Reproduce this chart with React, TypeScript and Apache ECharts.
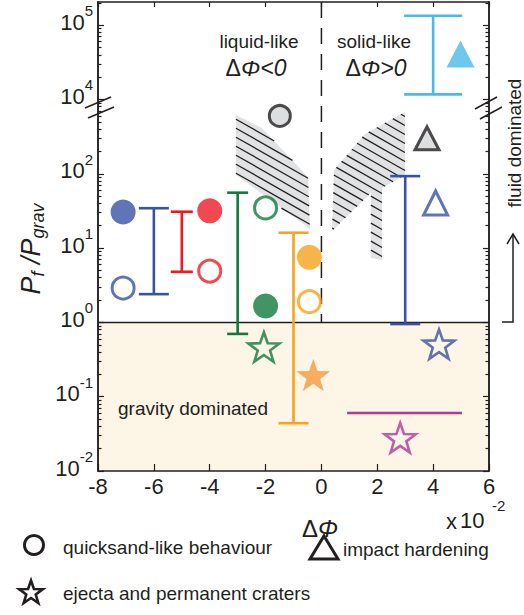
import React, { useEffect, useRef } from 'react';
import * as echarts from 'echarts';

// ---------------- data ----------------
const xTickValues = [-8, -6, -4, -2, 0, 2, 4, 6];
const yLabelExponents = [-2, -1, 0, 1, 2, 4, 5];
const breakBelowExp = 3; // axis break: 10^3 ... 10^4 removed
const breakAboveExp = 4;
const yMinExp = -2;
const yMaxExp = 5.312;

const regimeBoundaryY = 1; // P_f / P_grav = 1
const regimeBoundaryX = 0; // ΔΦ = 0

// error bars (ranges)
const errGroup = ['blue', 'red', 'green', 'orange', 'blue', 'lightBlue'];
const errX = [-6, -5, -3, -1, 3, 4];
const errLow = [2.4, 4.8, 0.7, 0.044, 0.95, 1.17e4];
const errHigh = [34.4, 30.9, 55.7, 16.1, 93, 1.34e5];

// quicksand-like (circles)
const filledCircleGroup = ['blue', 'red', 'green', 'orange'];
const filledCircleX = [-7.1, -4.0, -2.0, -0.43];
const filledCircleY = [30.6, 31.7, 1.66, 7.5];

const openCircleGroup = ['blue', 'red', 'green', 'orange'];
const openCircleX = [-7.1, -4.0, -2.0, -0.43];
const openCircleY = [2.9, 4.9, 34.7, 1.9];

const grayCircleX = [-1.49];
const grayCircleY = [600];

// impact hardening (triangles)
const openTriangleX = [4.09];
const openTriangleY = [40.5];
const grayTriangleX = [3.78];
const grayTriangleY = [300];
const filledTriangleX = [4.98];
const filledTriangleY = [4.1e4];

// ejecta and permanent craters (stars)
const openStarGroup = ['green', 'blue', 'magenta'];
const openStarX = [-2.06, 4.21, 2.82];
const openStarY = [0.467, 0.51, 0.028];
const filledStarX = [-0.29];
const filledStarY = [0.196];

// magenta range
const rangeX = [0.92, 5.03];
const rangeY = [0.0604, 0.0604];

// hatched regions
const leftHatch = [[-3.06, 616], [-2.13, 414], [-0.48, 90.6], [-0.41, 18.1], [-3.06, 96.4]];
const rightHatch = [[2.99, 679], [2.99, 96.4], [2.17, 64.4], [2.17, 6.92], [1.77, 7.36], [1.77, 55.2], [0.38, 17.0], [0.45, 112], [1.56, 344]];
const hatchPolygons = [leftHatch, rightHatch];

// ---------------- styles ----------------
const FONT = '"Liberation Sans", Arial, Helvetica, sans-serif';
const INK = '#231f20';
const COLORS: Record<string, string> = {
  blue: '#3953a4',
  red: '#ed1c24',
  green: '#0f7a3c',
  orange: '#f7a31d',
  orangeStar: '#f59b3c',
  lightBlue: '#4cb9e8',
  magenta: '#b03a96',
  gray: '#d5d6d8',
  hatch: '#e1e2e4',
  cream: '#fdf5e6',
};
const errCapPx = [30, 22, 21, 30, 30, 58];

// ---------------- helpers ----------------
const toU = (v: number) => {
  const l = Math.log10(v);
  return l >= breakAboveExp ? l - (breakAboveExp - breakBelowExp) : l;
};
const uToExp = (u: number) => (u > breakBelowExp + 1e-9 || Math.abs(u - breakBelowExp) < 1e-9 ? u + (breakAboveExp - breakBelowExp) : u);
const yMinU = toU(Math.pow(10, yMinExp));
const yMaxU = toU(Math.pow(10, yMaxExp));
const majorU = yLabelExponents.map((e) => toU(Math.pow(10, e)));
const minorU: number[] = [];
for (let n = -2; n <= 5; n++) {
  if (n === breakBelowExp) continue;
  for (let k = 2; k <= 9; k++) {
    const u = toU(k * Math.pow(10, n));
    if (u < yMaxU) minorU.push(u);
  }
}

function starPath(): string {
  const pts: string[] = [];
  for (let k = 0; k < 10; k++) {
    const a = (-90 + 36 * k) * Math.PI / 180;
    const r = k % 2 ? 40 : 100;
    pts.push(`${(r * Math.cos(a)).toFixed(2)} ${(r * Math.sin(a)).toFixed(2)}`);
  }
  return 'path://M' + pts.join(' L ') + ' Z';
}
const STAR = starPath();

function starPoints(cx: number, cy: number, R: number): number[][] {
  const pts: number[][] = [];
  for (let k = 0; k < 10; k++) {
    const a = (-90 + 36 * k) * Math.PI / 180;
    const r = k % 2 ? R * 0.4 : R;
    pts.push([cx + r * Math.cos(a), cy + r * Math.sin(a)]);
  }
  return pts;
}

function hatchLines(poly: number[][], slope: number, step: number): number[][] {
  const g = (p: number[]) => p[1] - slope * p[0];
  let cmin = Infinity, cmax = -Infinity;
  poly.forEach((p) => { cmin = Math.min(cmin, g(p)); cmax = Math.max(cmax, g(p)); });
  const segs: number[][] = [];
  const start = Math.ceil(cmin / step) * step + step * 0.3;
  for (let c = start; c < cmax; c += step) {
    const xs: number[] = [];
    for (let i = 0; i < poly.length; i++) {
      const P = poly[i], Q = poly[(i + 1) % poly.length];
      const a = g(P) - c, b = g(Q) - c;
      if ((a < 0) !== (b < 0)) {
        const t = a / (a - b);
        xs.push(P[0] + t * (Q[0] - P[0]));
      }
    }
    xs.sort((m, n) => m - n);
    for (let j = 0; j + 1 < xs.length; j += 2) {
      segs.push([xs[j], slope * xs[j] + c, xs[j + 1], slope * xs[j + 1] + c]);
    }
  }
  return segs;
}

function buildOption(): any {
  const axisLineStyle = { color: INK, width: 1.5 };
  const yAxisBase = (position: string, major: boolean) => ({
    type: 'value',
    min: yMinU,
    max: yMaxU,
    position,
    splitLine: { show: false },
    axisLine: { show: true, onZero: false, lineStyle: axisLineStyle },
    axisTick: {
      show: true,
      inside: true,
      length: major ? 6 : 3.5,
      customValues: major ? majorU : minorU,
      lineStyle: { color: INK, width: 1.2 },
    },
    axisLabel: major && position === 'left'
      ? {
          show: true,
          customValues: majorU,
          margin: 5,
          formatter: (v: number) => `{b|10}{s|${Math.round(uToExp(v))}}`,
          padding: [0, 0, 14, 0],
          rich: {
            b: { fontSize: 22, fontFamily: FONT, color: INK, lineHeight: 30, verticalAlign: 'bottom' },
            s: { fontSize: 15, fontFamily: FONT, color: INK, lineHeight: 15, verticalAlign: 'top' },
          },
        }
      : { show: false },
  });

  const capStyle = (i: number) => ({ stroke: COLORS[errGroup[i]], lineWidth: 2.6 });

  return {
    animation: false,
    textStyle: { fontFamily: FONT },
    grid: { left: 98, right: 35, top: 2, bottom: 144, containLabel: false },
    xAxis: [
      {
        type: 'value', min: xTickValues[0], max: xTickValues[xTickValues.length - 1], interval: 2,
        position: 'bottom',
        splitLine: { show: false },
        axisLine: { show: true, onZero: false, lineStyle: axisLineStyle },
        axisTick: { show: true, inside: true, length: 7, lineStyle: { color: INK, width: 1.2 } },
        axisLabel: { fontSize: 22, color: INK, margin: 4, fontFamily: FONT },
      },
      {
        type: 'value', min: xTickValues[0], max: xTickValues[xTickValues.length - 1], interval: 2,
        position: 'top',
        splitLine: { show: false },
        axisLine: { show: true, onZero: false, lineStyle: axisLineStyle },
        axisTick: { show: true, inside: true, length: 5, lineStyle: { color: INK, width: 1.2 } },
        axisLabel: { show: false },
      },
    ],
    yAxis: [yAxisBase('left', true), yAxisBase('left', false), yAxisBase('right', true), yAxisBase('right', false)],
    series: [
      {
        type: 'custom', z: -1, silent: true,
        data: [[regimeBoundaryX, toU(regimeBoundaryY)]],
        renderItem: (params: any, api: any) => {
          const cs = params.coordSys;
          const p = api.coord([api.value(0), api.value(1)]);
          return {
            type: 'group',
            children: [
              { type: 'rect', shape: { x: cs.x, y: p[1], width: cs.width, height: cs.y + cs.height - p[1] }, style: { fill: COLORS.cream } },
              { type: 'line', shape: { x1: cs.x, y1: p[1], x2: cs.x + cs.width, y2: p[1] }, style: { stroke: INK, lineWidth: 1.5 } },
              { type: 'line', shape: { x1: p[0], y1: cs.y, x2: p[0], y2: p[1] }, style: { stroke: INK, lineWidth: 1.5, lineDash: [16, 10] } },
            ],
          };
        },
      },
      {
        type: 'custom', silent: true,
        data: hatchPolygons.map((poly, i) => [poly[0][0], toU(poly[0][1]), i]),
        renderItem: (params: any, api: any) => {
          const poly = hatchPolygons[params.dataIndex].map((p) => api.coord([p[0], toU(p[1])]));
          const children: any[] = [{ type: 'polygon', shape: { points: poly }, style: { fill: COLORS.hatch } }];
          hatchLines(poly, 0.57, 9).forEach((s) => {
            children.push({ type: 'line', shape: { x1: s[0], y1: s[1], x2: s[2], y2: s[3] }, style: { stroke: INK, lineWidth: 1.3 } });
          });
          return { type: 'group', children };
        },
      },
      {
        type: 'line', symbol: 'none', silent: true,
        data: rangeX.map((x, i) => [x, toU(rangeY[i])]),
        lineStyle: { color: COLORS.magenta, width: 2.6 },
      },
      {
        type: 'custom', silent: true,
        data: errX.map((x, i) => [x, toU(errLow[i]), toU(errHigh[i])]),
        renderItem: (params: any, api: any) => {
          const i = params.dataIndex;
          const x = api.value(0);
          const lo = api.coord([x, api.value(1)]);
          const hi = api.coord([x, api.value(2)]);
          const hw = errCapPx[i] / 2;
          const st = capStyle(i);
          return {
            type: 'group',
            children: [
              { type: 'line', shape: { x1: lo[0], y1: lo[1], x2: hi[0], y2: hi[1] }, style: st },
              { type: 'line', shape: { x1: lo[0] - hw, y1: lo[1], x2: lo[0] + hw, y2: lo[1] }, style: st },
              { type: 'line', shape: { x1: hi[0] - hw, y1: hi[1], x2: hi[0] + hw, y2: hi[1] }, style: st },
            ],
          };
        },
      },
      {
        type: 'scatter', symbol: 'circle', symbolSize: 25, silent: true,
        data: filledCircleX.map((x, i) => ({ value: [x, toU(filledCircleY[i])], itemStyle: { color: COLORS[filledCircleGroup[i]] } })),
      },
      {
        type: 'scatter', symbol: 'circle', symbolSize: 22, silent: true,
        data: openCircleX.map((x, i) => ({
          value: [x, toU(openCircleY[i])],
          itemStyle: { color: 'rgba(0,0,0,0)', borderColor: COLORS[openCircleGroup[i]], borderWidth: 3 },
        })),
      },
      {
        type: 'scatter', symbol: 'circle', symbolSize: 21, silent: true,
        data: grayCircleX.map((x, i) => ({
          value: [x, toU(grayCircleY[i])],
          itemStyle: { color: COLORS.gray, borderColor: INK, borderWidth: 3 },
        })),
      },
      {
        type: 'scatter', symbol: 'triangle', silent: true,
        data: [
          ...openTriangleX.map((x, i) => ({ value: [x, toU(openTriangleY[i])], symbolSize: [24, 24], itemStyle: { color: 'rgba(0,0,0,0)', borderColor: COLORS.blue, borderWidth: 3 } })),
          ...grayTriangleX.map((x, i) => ({ value: [x, toU(grayTriangleY[i])], symbolSize: [24, 23], itemStyle: { color: COLORS.gray, borderColor: INK, borderWidth: 3 } })),
          ...filledTriangleX.map((x, i) => ({ value: [x, toU(filledTriangleY[i])], symbolSize: [28, 27], itemStyle: { color: COLORS.lightBlue } })),
        ],
      },
      {
        type: 'scatter', symbol: STAR, symbolKeepAspect: true, silent: true,
        data: [
          ...openStarX.map((x, i) => ({ value: [x, toU(openStarY[i])], symbolSize: 31, itemStyle: { color: 'rgba(0,0,0,0)', borderColor: COLORS[openStarGroup[i]], borderWidth: 2.6 } })),
          ...filledStarX.map((x, i) => ({ value: [x, toU(filledStarY[i])], symbolSize: 34, itemStyle: { color: COLORS.orangeStar } })),
        ],
      },
    ],
    graphic: [
      // y-axis title
      {
        type: 'text', x: 32, y: 249, rotation: Math.PI / 2,
        style: {
          text: '{p|P}{sb|f}{p| /P}{sb|grav}',
          align: 'center', verticalAlign: 'middle',
          rich: {
            p: { fontSize: 27, fontStyle: 'italic', fontFamily: FONT, fill: INK, lineHeight: 30, verticalAlign: 'top' },
            sb: { fontSize: 18, fontStyle: 'italic', fontFamily: FONT, fill: INK, lineHeight: 20, verticalAlign: 'bottom', padding: [0, 0, 0, 0] },
          },
        },
      },
      // x-axis title
      {
        type: 'text', x: 320, y: 528,
        style: {
          text: '{d|Δ}{i|Φ}', align: 'center', verticalAlign: 'middle',
          rich: { d: { fontSize: 24, fontFamily: FONT, fill: INK }, i: { fontSize: 24, fontStyle: 'italic', fontFamily: FONT, fill: INK } },
        },
      },
      { type: 'text', x: 446, y: 521, style: { text: 'x', fontSize: 22, fontFamily: FONT, fill: INK, align: 'left', verticalAlign: 'middle' } },
      { type: 'text', x: 460, y: 520, style: { text: '10', fontSize: 22, fontFamily: FONT, fill: INK, align: 'left', verticalAlign: 'middle' } },
      { type: 'text', x: 492, y: 505, style: { text: '-2', fontSize: 15, fontFamily: FONT, fill: INK, align: 'left', verticalAlign: 'middle' } },
      // regime labels
      { type: 'text', x: 259, y: 41, style: { text: 'liquid-like', fontSize: 19, fontFamily: FONT, fill: INK, align: 'center', verticalAlign: 'middle' } },
      {
        type: 'text', x: 256, y: 68,
        style: {
          text: '{d|Δ}{i|Φ<0}', align: 'center', verticalAlign: 'middle',
          rich: { d: { fontSize: 23, fontFamily: FONT, fill: INK }, i: { fontSize: 23, fontStyle: 'italic', fontFamily: FONT, fill: INK } },
        },
      },
      { type: 'text', x: 374, y: 41, style: { text: 'solid-like', fontSize: 19, fontFamily: FONT, fill: INK, align: 'center', verticalAlign: 'middle' } },
      {
        type: 'text', x: 376, y: 68,
        style: {
          text: '{d|Δ}{i|Φ>0}', align: 'center', verticalAlign: 'middle',
          rich: { d: { fontSize: 23, fontFamily: FONT, fill: INK }, i: { fontSize: 23, fontStyle: 'italic', fontFamily: FONT, fill: INK } },
        },
      },
      { type: 'text', x: 118, y: 408, style: { text: 'gravity dominated', fontSize: 19, fontFamily: FONT, fill: INK, align: 'left', verticalAlign: 'middle' } },
      { type: 'text', x: 514, y: 143, rotation: Math.PI / 2, style: { text: 'fluid dominated', fontSize: 19, lineHeight: 19, fontFamily: FONT, fill: INK, align: 'center', verticalAlign: 'middle' } },
      // fluid-dominated arrow
      { type: 'polyline', shape: { points: [[502, 322], [513, 322], [513, 234]] }, style: { stroke: INK, lineWidth: 1.5, fill: 'none' } },
      { type: 'polyline', shape: { points: [[507, 244], [513, 234], [519, 244]] }, style: { stroke: INK, lineWidth: 1.5, fill: 'none' } },
      // axis break marks
      { type: 'line', shape: { x1: 85, y1: 108, x2: 111, y2: 97 }, style: { stroke: INK, lineWidth: 1.5 } },
      { type: 'line', shape: { x1: 88, y1: 118, x2: 114, y2: 107 }, style: { stroke: INK, lineWidth: 1.5 } },
      { type: 'line', shape: { x1: 475, y1: 109, x2: 497, y2: 97 }, style: { stroke: INK, lineWidth: 1.5 } },
      { type: 'line', shape: { x1: 480, y1: 119, x2: 502, y2: 107 }, style: { stroke: INK, lineWidth: 1.5 } },
      // legend
      { type: 'circle', shape: { cx: 34, cy: 545, r: 9.5 }, style: { stroke: INK, lineWidth: 3, fill: 'none' } },
      { type: 'text', x: 63, y: 547, style: { text: 'quicksand-like behaviour', fontSize: 19, fontFamily: FONT, fill: INK, align: 'left', verticalAlign: 'middle' } },
      { type: 'polygon', shape: { points: [[324, 536], [338, 559], [310, 559]] }, style: { stroke: INK, lineWidth: 3, fill: 'none', lineJoin: 'miter' } },
      { type: 'text', x: 343, y: 549, style: { text: 'impact hardening', fontSize: 19, fontFamily: FONT, fill: INK, align: 'left', verticalAlign: 'middle' } },
      { type: 'polygon', shape: { points: starPoints(31, 593, 12.5) }, style: { stroke: INK, lineWidth: 2.6, fill: 'none' } },
      { type: 'text', x: 63, y: 593, style: { text: 'ejecta and permanent craters', fontSize: 19, fontFamily: FONT, fill: INK, align: 'left', verticalAlign: 'middle' } },
    ],
  };
}

export default function App() {
  const ref = useRef<HTMLDivElement>(null);
  useEffect(() => {
    if (!ref.current) return;
    const chart = echarts.init(ref.current, null, { renderer: 'svg' });
    chart.setOption(buildOption());
    return () => chart.dispose();
  }, []);
  return <div ref={ref} style={{ position: 'fixed', left: 0, top: 0, width: 524, height: 615, background: '#fff' }} />;
}
